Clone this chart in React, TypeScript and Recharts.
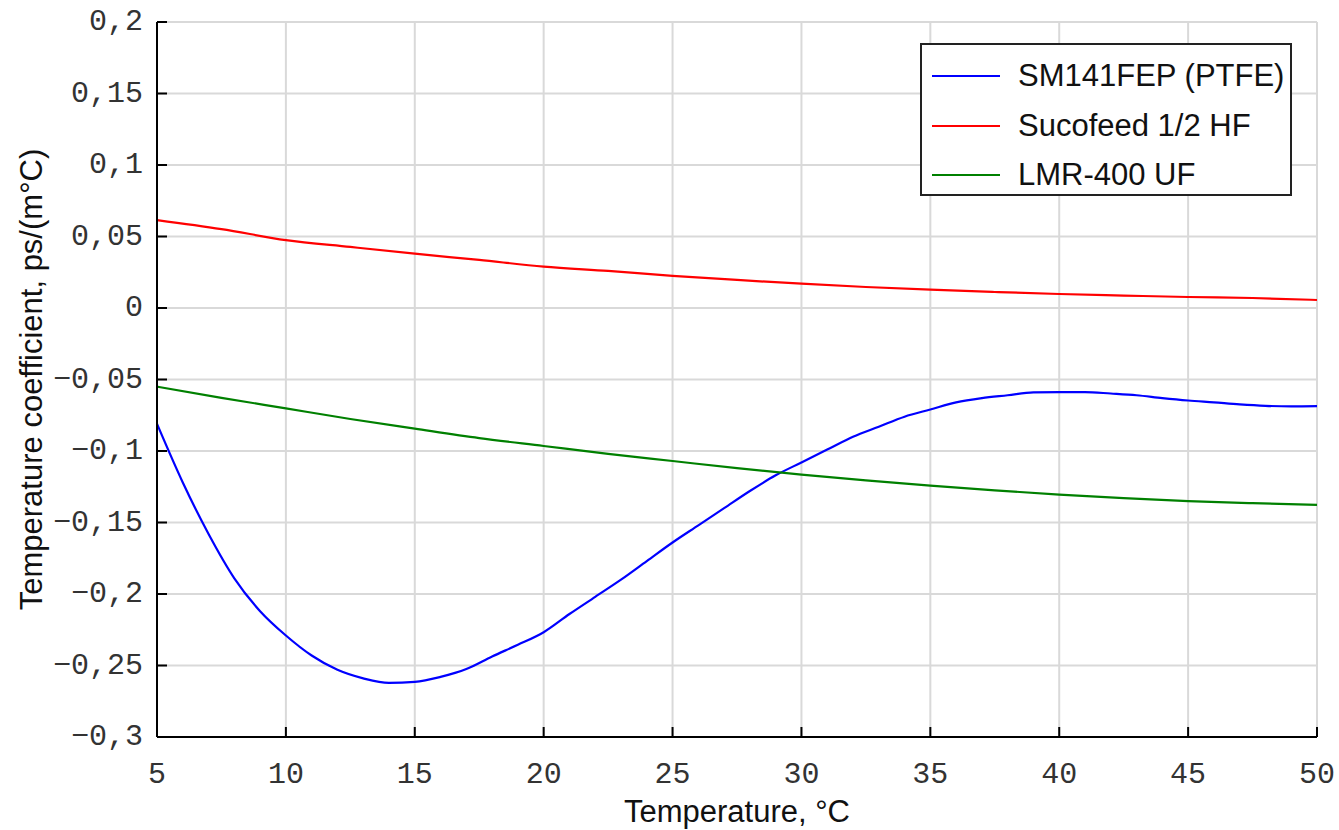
import { LineChart, Line, XAxis, YAxis, CartesianGrid, Legend } from "recharts";

const xTicks = [5, 10, 15, 20, 25, 30, 35, 40, 45, 50];
const yTicks = [-0.3, -0.25, -0.2, -0.15, -0.1, -0.05, 0, 0.05, 0.1, 0.15, 0.2];

// SM141FEP (PTFE), blue
const ptfeTemps = [5, 6, 7, 8, 9, 10, 11, 12, 13, 14, 15, 16, 17, 18, 19, 20, 21, 22, 23, 24, 25, 26, 27, 28, 29, 30, 31, 32, 33, 34, 35, 36, 37, 38, 39, 40, 41, 42, 43, 44, 45, 46, 47, 48, 49, 50];
const ptfeValues = [-0.081, -0.122, -0.158, -0.189, -0.212, -0.229, -0.243, -0.253, -0.259, -0.2622, -0.2615, -0.258, -0.2525, -0.2437, -0.2355, -0.2267, -0.214, -0.202, -0.19, -0.177, -0.164, -0.152, -0.14, -0.128, -0.117, -0.108, -0.099, -0.09, -0.083, -0.076, -0.071, -0.066, -0.063, -0.061, -0.059, -0.0588, -0.0588, -0.0598, -0.061, -0.063, -0.0647, -0.066, -0.0674, -0.0684, -0.0688, -0.0686];

// Sucofeed 1/2 HF, red
const sucoTemps = [5, 7.5, 10, 12.5, 15, 17.5, 20, 22.5, 25, 27.5, 30, 32.5, 35, 37.5, 40, 42.5, 45, 47.5, 50];
const sucoValues = [0.0615, 0.0552, 0.0475, 0.0427, 0.038, 0.0336, 0.029, 0.0259, 0.0225, 0.0196, 0.017, 0.0147, 0.0128, 0.0112, 0.0098, 0.0087, 0.0077, 0.007, 0.0056];

// LMR-400 UF, green
const lmrTemps = [5, 7.5, 10, 12.5, 15, 17.5, 20, 22.5, 25, 27.5, 30, 32.5, 35, 37.5, 40, 42.5, 45, 47.5, 50];
const lmrValues = [-0.055, -0.0628, -0.0702, -0.0776, -0.0844, -0.091, -0.0965, -0.102, -0.107, -0.112, -0.1165, -0.1205, -0.1242, -0.1275, -0.1305, -0.133, -0.135, -0.1365, -0.1377];

const series = [
  { name: "SM141FEP (PTFE)", color: "#0000ff", temps: ptfeTemps, values: ptfeValues },
  { name: "Sucofeed 1/2 HF", color: "#ff0000", temps: sucoTemps, values: sucoValues },
  { name: "LMR-400 UF", color: "#008000", temps: lmrTemps, values: lmrValues },
];

const toRows = (temps: number[], values: number[]) => temps.map((t, i) => ({ t, v: values[i] }));

const fmt = (v: number) => String(v).replace(".", ",").replace("-", "\u2212");

const monoFont = "'Liberation Mono', 'DejaVu Sans Mono', monospace";
const sansFont = "'Liberation Sans', Arial, sans-serif";

function BottomTick(props: any) {
  const { x, y, payload } = props;
  return (
    <g>
      <line x1={x} y1={y} x2={x} y2={y - 10} stroke="#000" strokeWidth={2} />
      <text x={x} y={y + 38} textAnchor="middle" dominantBaseline="central" fontFamily={monoFont} fontSize={30} fill="#333">
        {fmt(payload.value)}
      </text>
    </g>
  );
}

function LeftTick(props: any) {
  const { x, y, payload } = props;
  return (
    <g>
      <line x1={x} y1={y} x2={x + 10} y2={y} stroke="#000" strokeWidth={2} />
      <text x={x - 14} y={y} textAnchor="end" dominantBaseline="central" fontFamily={monoFont} fontSize={30} fill="#333">
        {fmt(payload.value)}
      </text>
    </g>
  );
}

function TopTick(props: any) {
  const { x, y } = props;
  return <line x1={x} y1={y} x2={x} y2={y + 10} stroke="#000" strokeWidth={2} />;
}

function RightTick(props: any) {
  const { x, y } = props;
  return <line x1={x} y1={y} x2={x - 10} y2={y} stroke="#000" strokeWidth={2} />;
}

function LegendBox() {
  return (
    <div style={{ position: "relative", width: 372, height: 153, border: "2px solid #222", background: "#fff", boxSizing: "border-box", fontFamily: sansFont, fontSize: 31, color: "#111" }}>
      {series.map((s, i) => (
        <div key={s.name} style={{ position: "absolute", left: 0, top: 14 + i * 49.5, height: 34, display: "flex", alignItems: "center" }}>
          <svg width={96} height={34}>
            <line x1={10} y1={17} x2={78} y2={17} stroke={s.color} strokeWidth={2} />
          </svg>
          <span>{s.name}</span>
        </div>
      ))}
    </div>
  );
}

export default function App() {
  return (
    <div style={{ position: "absolute", left: 0, top: 0, background: "#fff" }}>
      <LineChart width={1339} height={830} margin={{ top: 22, right: 22, bottom: 0, left: 0 }}>
        <CartesianGrid xAxisId="b" yAxisId="l" stroke="#d9d9d9" strokeWidth={2} horizontalValues={yTicks} verticalValues={xTicks} />
        <XAxis
          xAxisId="b"
          dataKey="t"
          type="number"
          domain={[5, 50]}
          ticks={xTicks}
          allowDuplicatedCategory={false}
          height={93}
          tickSize={0}
          tickMargin={0}
          tickLine={false}
          axisLine={{ stroke: "#000", strokeWidth: 2 }}
          tick={BottomTick}
          label={{
            content: (p: any) => (
              <text x={p.viewBox.x + p.viewBox.width / 2} y={811} textAnchor="middle" dominantBaseline="central" fontFamily={sansFont} fontSize={31} fill="#111">
                Temperature, °C
              </text>
            ),
          }}
        />
        <XAxis xAxisId="t" orientation="top" dataKey="t" type="number" domain={[5, 50]} ticks={xTicks} height={0} tickSize={0} tickMargin={0} tickLine={false} axisLine={{ stroke: "#000", strokeWidth: 2 }} tick={TopTick} />
        <YAxis
          yAxisId="l"
          type="number"
          domain={[-0.3, 0.2]}
          ticks={yTicks}
          width={157}
          tickSize={0}
          tickMargin={0}
          tickLine={false}
          axisLine={{ stroke: "#000", strokeWidth: 2 }}
          tick={LeftTick}
          label={{
            content: (p: any) => {
              const cx = 31;
              const cy = p.viewBox.y + p.viewBox.height / 2;
              return (
                <text x={cx} y={cy} transform={`rotate(-90 ${cx} ${cy})`} textAnchor="middle" dominantBaseline="central" fontFamily={sansFont} fontSize={31} fill="#111">
                  Temperature coefficient, ps/(m°C)
                </text>
              );
            },
          }}
        />
        <YAxis yAxisId="r" orientation="right" type="number" domain={[-0.3, 0.2]} ticks={yTicks} width={0} tickSize={0} tickMargin={0} tickLine={false} axisLine={{ stroke: "#000", strokeWidth: 2 }} tick={RightTick} />
        {series.map((s) => (
          <Line
            key={s.name}
            xAxisId="b"
            yAxisId="l"
            data={toRows(s.temps, s.values)}
            dataKey="v"
            name={s.name}
            type="monotone"
            stroke={s.color}
            strokeWidth={2.2}
            dot={false}
            isAnimationActive={false}
          />
        ))}
        <Line xAxisId="t" yAxisId="r" data={[]} dataKey="v" legendType="none" stroke="none" dot={false} isAnimationActive={false} />
        <Legend layout="horizontal" verticalAlign="middle" align="center" content={() => <LegendBox />} wrapperStyle={{ position: "absolute", left: 920, top: 43, width: 372, height: 153 }} />
      </LineChart>
    </div>
  );
}
